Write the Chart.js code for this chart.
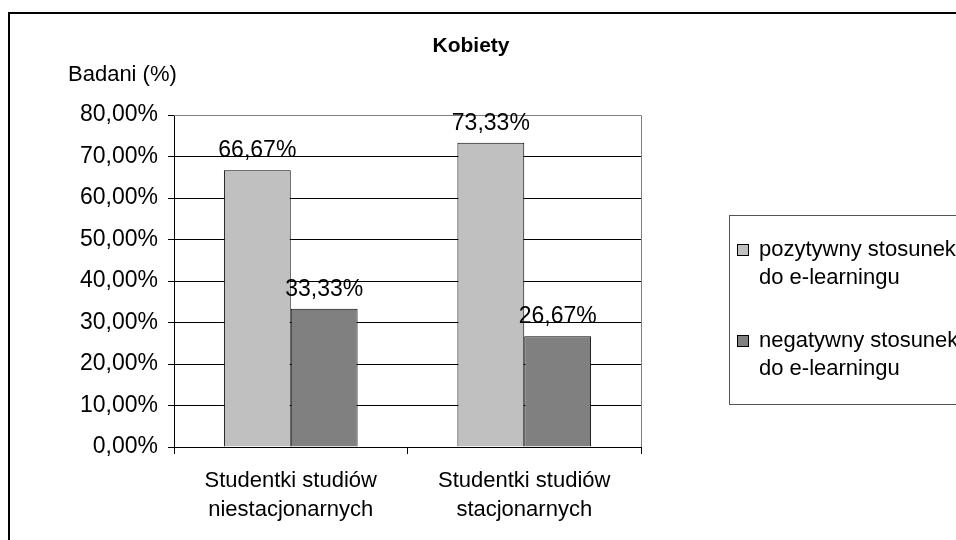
<!DOCTYPE html>
<html>
<head>
<meta charset="utf-8">
<script src="https://cdn.jsdelivr.net/npm/chart.js@4.4.1/dist/chart.umd.min.js"></script>
<style>
  html, body { margin: 0; padding: 0; background: #fff; }
  canvas { display: block; }
</style>
</head>
<body>
<canvas id="chart" width="956" height="540"></canvas>
<script>
const categories = [["Studentki studiów", "niestacjonarnych"], ["Studentki studiów", "stacjonarnych"]];
const positive = [66.67, 73.33];
const negative = [33.33, 26.67];
const seriesNames = [["pozytywny stosunek", "do e-learningu"], ["negatywny stosunek", "do e-learningu"]];
const chartTitle = "Kobiety";
const axisTitle = "Badani (%)";

const FONT = '"Liberation Sans", Arial, sans-serif';
const fmt = (v) => v.toFixed(2).replace('.', ',') + '%';

// frame, titles, plot border, data labels and legend
const extras = {
  id: 'extras',
  afterDraw(chart) {
    const c = chart.ctx;
    const area = chart.chartArea;
    c.save();

    // outer frame (runs off the right and bottom edges)
    c.strokeStyle = '#000';
    c.lineWidth = 2;
    c.strokeRect(9, 13, 1000, 600);

    // plot border top/right in grey
    c.strokeStyle = '#808080';
    c.lineWidth = 1;
    c.beginPath();
    c.moveTo(area.left, area.top + 0.5);
    c.lineTo(area.right + 0.5, area.top + 0.5);
    c.lineTo(area.right + 0.5, area.bottom);
    c.stroke();

    c.fillStyle = '#000';
    c.textBaseline = 'middle';
    c.textAlign = 'center';
    c.font = 'bold 21px ' + FONT;
    c.fillText(chartTitle, 471, 46);

    c.textAlign = 'left';
    c.font = '22px ' + FONT;
    c.fillText(axisTitle, 68, 75);

    // data labels
    c.textAlign = 'center';
    c.textBaseline = 'alphabetic';
    c.font = '23px ' + FONT;
    chart.data.datasets.forEach((ds, i) => {
      chart.getDatasetMeta(i).data.forEach((bar, j) => {
        c.fillText(fmt(ds.data[j]), bar.x, bar.y - 13);
      });
    });

    // legend box
    c.strokeStyle = '#555';
    c.lineWidth = 1;
    c.strokeRect(729.5, 215.5, 400, 189);
    const rows = [250, 341];
    c.font = '22px ' + FONT;
    c.textAlign = 'left';
    c.textBaseline = 'middle';
    chart.data.datasets.forEach((ds, i) => {
      const y = rows[i];
      c.fillStyle = ds.backgroundColor;
      c.fillRect(737, y - 6, 12, 12);
      c.strokeStyle = '#000';
      c.strokeRect(737.5, y - 5.5, 11, 11);
      c.fillStyle = '#000';
      seriesNames[i].forEach((line, k) => c.fillText(line, 759, y + k * 28));
    });

    c.restore();
  }
};

new Chart(document.getElementById('chart'), {
  type: 'bar',
  data: {
    labels: categories,
    datasets: [
      { label: seriesNames[0].join(' '), data: positive, backgroundColor: '#C0C0C0', borderColor: '#000', borderWidth: 1 },
      { label: seriesNames[1].join(' '), data: negative, backgroundColor: '#808080', borderColor: '#000', borderWidth: 1 }
    ]
  },
  options: {
    responsive: false,
    animation: false,
    layout: { padding: { top: 115, right: 315, left: 0, bottom: 0 } },
    plugins: { legend: { display: false }, title: { display: false }, tooltip: { enabled: false } },
    datasets: { bar: { categoryPercentage: 0.5726, barPercentage: 1 } },
    scales: {
      x: {
        afterFit(scale) { scale.height = 93; },
        grid: { offset: true, drawOnChartArea: false, drawTicks: true, tickLength: 7, color: '#000' },
        border: { display: true, color: '#000' },
        ticks: { color: '#000', padding: 12, maxRotation: 0, font: { family: FONT, size: 22, lineHeight: 1.32 } }
      },
      y: {
        min: 0,
        max: 80,
        afterFit(scale) { scale.width = 174; },
        grid: {
          color: (ctx) => ctx.tick && ctx.tick.value === 80 ? '#808080' : '#000',
          tickColor: '#000',
          tickLength: 6
        },
        border: { display: true, color: '#000' },
        ticks: { stepSize: 10, color: '#000', padding: 10, callback: (v) => fmt(v), font: { family: FONT, size: 23 } }
      }
    }
  },
  plugins: [extras]
});
</script>
</body>
</html>
